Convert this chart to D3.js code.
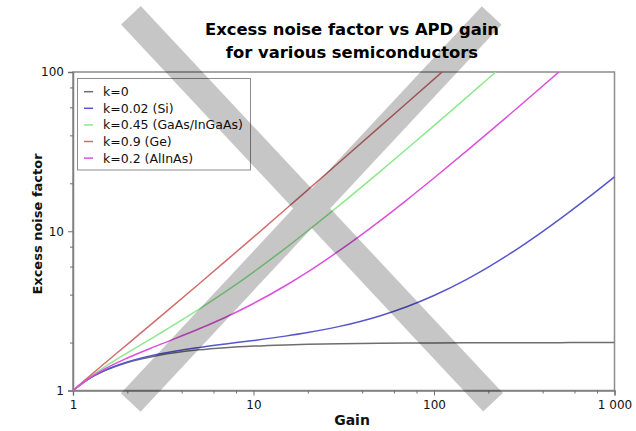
<!DOCTYPE html>
<html><head><meta charset="utf-8">
<script src="https://cdn.jsdelivr.net/npm/d3@7"></script>
<style>body{margin:0;background:#fff}svg{display:block}</style>
</head><body><svg id="c" width="636" height="431"></svg>
<script>
const gains = [1, 1.2, 1.5, 2, 3, 5, 7, 10, 15, 20, 30, 50, 70, 100, 150, 200, 300, 500, 700, 1000];
const seriesNames = ["k=0", "k=0.02 (Si)", "k=0.45 (GaAs/InGaAs)", "k=0.9 (Ge)", "k=0.2 (AlInAs)"];
const seriesColors = ["#6e6e6e", "#5656cc", "#8ee88e", "#d06e6e", "#dd4fdd"];
const fK0   = [1, 1.167, 1.333, 1.5, 1.667, 1.8, 1.857, 1.9, 1.933, 1.95, 1.967, 1.98, 1.986, 1.99, 1.993, 1.995, 1.997, 1.998, 1.999, 1.999];
const fK002 = [1, 1.167, 1.337, 1.51, 1.693, 1.864, 1.96, 2.062, 2.195, 2.311, 2.527, 2.94, 3.346, 3.95, 4.953, 5.955, 7.957, 11.96, 15.96, 21.96];
const fK045 = [1, 1.182, 1.408, 1.725, 2.267, 3.24, 4.171, 5.545, 7.813, 10.07, 14.58, 23.59, 32.59, 46.09, 68.6, 91.1, 136.1, 226.1, 316.1, 451.1];
const fK09  = [1, 1.197, 1.483, 1.95, 2.867, 4.68, 6.486, 9.19, 13.69, 18.2, 27.2, 45.2, 63.2, 90.2, 135.2, 180.2, 270.2, 450.2, 630.2, 900.2];
const fK02  = [1, 1.173, 1.367, 1.6, 1.933, 2.44, 2.886, 3.52, 4.547, 5.56, 7.573, 11.58, 15.59, 21.59, 31.59, 41.6, 61.6, 101.6, 141.6, 201.6];
const seriesValues = [fK0, fK002, fK045, fK09, fK02];
const xMajor = [1, 10, 100, 1000];
const xMajorLabels = ["1", "10", "100", "1 000"];
const xMinor = [2, 4, 6, 8, 20, 40, 60, 80, 200, 400, 600, 800];
const yMajor = [1, 10, 100];
const yMajorLabels = ["1", "10", "100"];
const yMinor = [2, 4, 6, 8, 20, 40, 60, 80];
const titleLines = ["Excess noise factor vs APD gain", "for various semiconductors"];

const svg = d3.select("#c");
const L = 73, R = 614.5, T = 72, B = 390.5;
const x = d3.scaleLog().domain([1, 1000]).range([L, R]);
const y = d3.scaleLog().domain([1, 100]).range([B, T]);
const font = "'DejaVu Sans', Verdana, sans-serif";

// title
svg.append("g").selectAll("text").data(titleLines).join("text")
  .attr("x", 352).attr("y", (d, i) => 35 + i * 23)
  .attr("text-anchor", "middle").attr("font-family", font)
  .attr("font-weight", "bold").attr("font-size", 16.4).attr("fill", "#000").text(d => d);

// frame
svg.append("rect").attr("x", L).attr("y", T).attr("width", R - L).attr("height", B - T)
  .attr("fill", "none").attr("stroke", "#8c8c8c").attr("stroke-width", 1.5);

// axes
function styleAxis(g) {
  g.select(".domain").attr("stroke", "#808080").attr("stroke-width", 1.5);
  g.selectAll(".tick line").attr("stroke", "#707070");
  g.selectAll(".tick text").attr("font-family", font).attr("font-size", 12).attr("fill", "#111");
}
const xa = svg.append("g").attr("transform", `translate(0,${B})`)
  .call(d3.axisBottom(x).tickValues(xMajor).tickFormat((d, i) => xMajorLabels[i]).tickSize(5).tickPadding(5));
styleAxis(xa);
const xm = svg.append("g").attr("transform", `translate(0,${B})`)
  .call(d3.axisBottom(x).tickValues(xMinor).tickFormat("").tickSize(3));
styleAxis(xm); xm.select(".domain").remove();
const ya = svg.append("g").attr("transform", `translate(${L},0)`)
  .call(d3.axisLeft(y).tickValues(yMajor).tickFormat((d, i) => yMajorLabels[i]).tickSize(5).tickPadding(4));
styleAxis(ya);
const ym = svg.append("g").attr("transform", `translate(${L},0)`)
  .call(d3.axisLeft(y).tickValues(yMinor).tickFormat("").tickSize(3));
styleAxis(ym); ym.select(".domain").remove();

// axis titles
svg.append("text").attr("x", 352).attr("y", 425).attr("text-anchor", "middle")
  .attr("font-family", font).attr("font-weight", "bold").attr("font-size", 14).attr("fill", "#111").text("Gain");
svg.append("text").attr("transform", "translate(42,224) rotate(-90)").attr("text-anchor", "middle")
  .attr("font-family", font).attr("font-weight", "bold").attr("font-size", 13).attr("fill", "#111").text("Excess noise factor");

// curves
svg.append("clipPath").attr("id", "clip").append("rect")
  .attr("x", L).attr("y", T).attr("width", R - L).attr("height", B - T);
const line = d3.line().x((d, i) => x(gains[i])).y(d => y(d)).curve(d3.curveMonotoneX);
svg.append("g").attr("clip-path", "url(#clip)").selectAll("path").data(seriesValues).join("path")
  .attr("d", d => line(d)).attr("fill", "none")
  .attr("stroke", (d, i) => seriesColors[i]).attr("stroke-width", 1.5);

// legend
const lg = svg.append("g");
lg.append("rect").attr("x", 77.5).attr("y", 78.5).attr("width", 173).attr("height", 91.5)
  .attr("fill", "#fff").attr("stroke", "#8c8c8c").attr("stroke-width", 1);
const items = lg.selectAll("g.it").data(seriesNames).join("g").attr("class", "it")
  .attr("transform", (d, i) => `translate(0,${91.7 + i * 16.6})`);
items.append("line").attr("x1", 84).attr("x2", 93).attr("y1", 0).attr("y2", 0)
  .attr("stroke", (d, i) => seriesColors[i]).attr("stroke-width", 1.5);
items.append("text").attr("x", 103).attr("y", 4.5).attr("font-family", font).attr("font-size", 12.5)
  .attr("fill", "#111").text(d => d);

// cross-out X
const xg = svg.append("g").attr("opacity", 0.22);
xg.append("line").attr("x1", 130.9).attr("y1", 15.2).attr("x2", 493).attr("y2", 402.2)
  .attr("stroke", "#000").attr("stroke-width", 27);
xg.append("line").attr("x1", 491.7).attr("y1", 15.5).attr("x2", 130.7).attr("y2", 402.5)
  .attr("stroke", "#000").attr("stroke-width", 27);
</script></body></html>
